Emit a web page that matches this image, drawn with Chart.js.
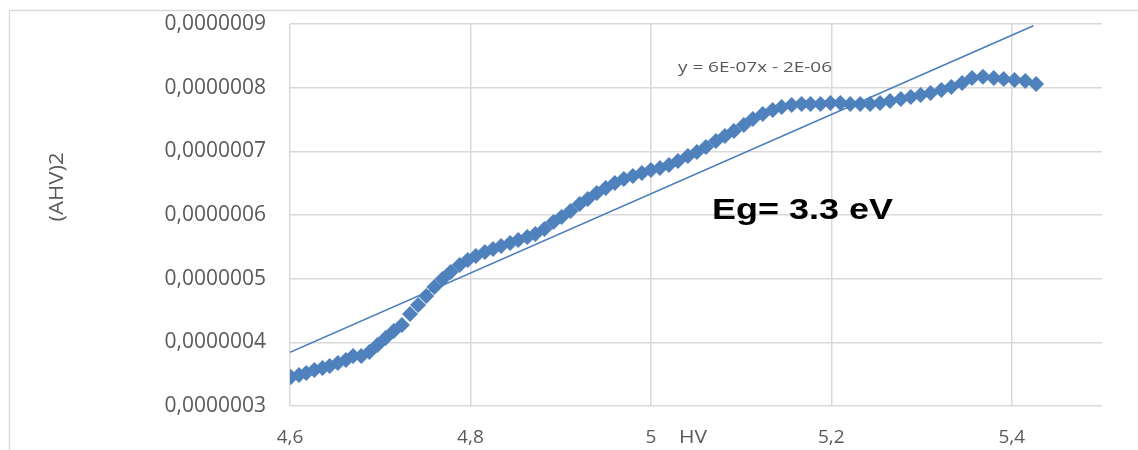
<!DOCTYPE html>
<html>
<head>
<meta charset="utf-8">
<script src="https://cdn.jsdelivr.net/npm/chart.js@4/dist/chart.umd.min.js"></script>
<style>
  html, body { margin: 0; padding: 0; background: #ffffff; }
  #c { display: block; }
</style>
</head>
<body>
<canvas id="c" width="1138" height="450"></canvas>
<script>
// ---- data ----
const xTickValues = [4.6, 4.8, 5.0, 5.2, 5.4];
const xTickLabels = ['4,6', '4,8', '5', '5,2', '5,4'];
const yTickValues = [3e-7, 4e-7, 5e-7, 6e-7, 7e-7, 8e-7, 9e-7];
const yTickLabels = ['0,0000003', '0,0000004', '0,0000005', '0,0000006', '0,0000007', '0,0000008', '0,0000009'];

const hvEnergy = [
  4.601, 4.610, 4.618, 4.627, 4.636, 4.644, 4.653, 4.662, 4.670, 4.679,
  4.688, 4.697, 4.706, 4.715, 4.724, 4.733, 4.742, 4.751, 4.760, 4.769,
  4.778, 4.788, 4.797, 4.806, 4.816, 4.825, 4.834, 4.844, 4.853, 4.863,
  4.872, 4.882, 4.892, 4.901, 4.911, 4.921, 4.930, 4.940, 4.950, 4.960,
  4.970, 4.980, 4.990, 5.000, 5.010, 5.020, 5.030, 5.041, 5.051, 5.061,
  5.072, 5.082, 5.092, 5.103, 5.113, 5.124, 5.135, 5.145, 5.156, 5.167,
  5.177, 5.188, 5.199, 5.210, 5.221, 5.232, 5.243, 5.254, 5.265, 5.277,
  5.288, 5.299, 5.310, 5.322, 5.333, 5.345, 5.356, 5.368, 5.380, 5.391,
  5.403, 5.415, 5.427
];
const ahv2 = [
  3.455e-7, 3.487e-7, 3.518e-7, 3.565e-7, 3.597e-7, 3.628e-7, 3.675e-7, 3.722e-7, 3.785e-7, 3.785e-7,
  3.848e-7, 3.958e-7, 4.068e-7, 4.178e-7, 4.272e-7, 4.445e-7, 4.586e-7, 4.728e-7, 4.869e-7, 4.995e-7,
  5.105e-7, 5.215e-7, 5.293e-7, 5.356e-7, 5.419e-7, 5.466e-7, 5.513e-7, 5.560e-7, 5.607e-7, 5.654e-7,
  5.701e-7, 5.780e-7, 5.890e-7, 5.968e-7, 6.063e-7, 6.173e-7, 6.251e-7, 6.345e-7, 6.424e-7, 6.502e-7,
  6.565e-7, 6.612e-7, 6.660e-7, 6.707e-7, 6.738e-7, 6.785e-7, 6.848e-7, 6.926e-7, 6.989e-7, 7.068e-7,
  7.162e-7, 7.241e-7, 7.319e-7, 7.413e-7, 7.508e-7, 7.586e-7, 7.649e-7, 7.696e-7, 7.727e-7, 7.743e-7,
  7.743e-7, 7.743e-7, 7.759e-7, 7.759e-7, 7.743e-7, 7.743e-7, 7.743e-7, 7.759e-7, 7.790e-7, 7.822e-7,
  7.853e-7, 7.884e-7, 7.916e-7, 7.963e-7, 8.010e-7, 8.073e-7, 8.150e-7, 8.170e-7, 8.150e-7, 8.136e-7,
  8.120e-7, 8.104e-7, 8.057e-7
];
const trendX = [4.6, 5.424];
const trendY = [3.843e-7, 8.973e-7];

const yAxisTitle = '(AHV)2';
const xAxisTitle = 'HV';
const equationText = 'y = 6E-07x - 2E-06';
const bandGapText = 'Eg= 3.3 eV';

// ---- drawing ----
const annotations = {
  id: 'annotations',
  beforeDraw(chart) {
    const ctx = chart.ctx;
    ctx.save();
    ctx.fillStyle = '#ffffff';
    ctx.fillRect(0, 0, chart.width, chart.height);
    ctx.strokeStyle = '#d9d9d9';
    ctx.lineWidth = 1.5;
    ctx.strokeRect(9.5, 10.5, 1200, 600);
    ctx.restore();
  },
  afterDraw(chart) {
    const ctx = chart.ctx;
    function stretched(text, font, color, x, y, targetWidth, align, baseline, rotate) {
      ctx.save();
      ctx.font = font;
      ctx.fillStyle = color;
      ctx.textBaseline = baseline;
      ctx.textAlign = 'left';
      const w = ctx.measureText(text).width;
      const s = targetWidth / w;
      ctx.translate(x, y);
      if (rotate) ctx.rotate(-Math.PI / 2);
      ctx.scale(s, 1);
      const off = align === 'center' ? -w / 2 : 0;
      ctx.fillText(text, off, 0);
      ctx.restore();
    }
    stretched(yAxisTitle, '20px "Open Sans"', '#595959', 57, 187, 69, 'center', 'middle', true);
    stretched(xAxisTitle, '19px "Open Sans"', '#595959', 693, 438, 28, 'center', 'middle', false);
    stretched(equationText, '15px "Open Sans"', '#595959', 678, 72, 154, 'left', 'alphabetic', false);
    stretched(bandGapText, 'bold 29px "Liberation Sans"', '#000000', 712, 219, 181, 'left', 'alphabetic', false);
  }
};

const blue = '#4f81bd';

new Chart(document.getElementById('c'), {
  type: 'scatter',
  data: {
    datasets: [
      {
        label: 'trend',
        data: trendX.map((x, i) => ({ x: x, y: trendY[i] })),
        showLine: true,
        borderColor: '#4a7ebb',
        borderWidth: 1.6,
        pointRadius: 0,
        fill: false,
        order: 0
      },
      {
        label: 'data',
        data: hvEnergy.map((x, i) => ({ x: x, y: ahv2[i] })),
        pointStyle: 'rectRot',
        pointRadius: 8,
        backgroundColor: blue,
        borderColor: blue,
        borderWidth: 0,
        showLine: false,
        order: 1
      }
    ]
  },
  options: {
    responsive: false,
    animation: false,
    events: [],
    layout: { padding: { top: 24, right: 36, left: 0, bottom: 0 } },
    plugins: { legend: { display: false }, tooltip: { enabled: false }, title: { display: false } },
    scales: {
      x: {
        type: 'linear',
        min: 4.6,
        max: 5.5,
        afterBuildTicks: s => { s.ticks = xTickValues.map(v => ({ value: v })); },
        afterFit: s => { s.height = 44; s.paddingLeft = 0; s.paddingRight = 0; },
        ticks: {
          callback: (v, i) => xTickLabels[i],
          font: { family: 'Open Sans', size: 19 },
          color: '#595959',
          padding: 20,
          maxRotation: 0,
          autoSkip: false
        },
        grid: { color: '#d9d9d9', lineWidth: 1.5, drawTicks: false },
        border: { display: false }
      },
      y: {
        type: 'linear',
        min: 3e-7,
        max: 9e-7,
        afterBuildTicks: s => { s.ticks = yTickValues.map(v => ({ value: v })); },
        afterFit: s => { s.width = 290; s.paddingTop = 0; s.paddingBottom = 0; },
        ticks: {
          callback: (v, i) => yTickLabels[i],
          font: { family: 'Open Sans', size: 21 },
          color: '#595959',
          padding: 24,
          autoSkip: false
        },
        grid: { color: '#d9d9d9', lineWidth: 1.5, drawTicks: false },
        border: { display: false }
      }
    }
  },
  plugins: [annotations]
});
</script>
</body>
</html>
